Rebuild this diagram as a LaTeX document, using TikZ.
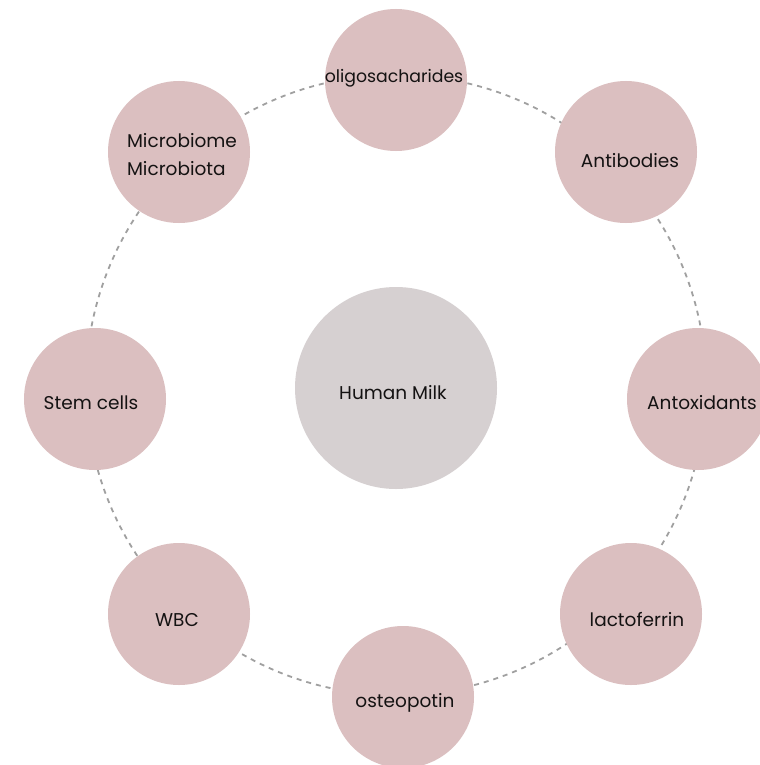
\documentclass[tikz,border=0pt]{standalone}
\usepackage{fontspec}
\setmainfont{Poppins}
\definecolor{pinkfill}{RGB}{219,191,192}
\definecolor{greyfill}{RGB}{214,208,209}
\definecolor{ringcol}{RGB}{160,160,160}
\definecolor{txtcol}{RGB}{20,18,18}
\begin{document}
\begin{tikzpicture}[x=1bp,y=-1bp,
  item/.style={circle,fill=pinkfill,inner sep=0pt,minimum size=142bp},
  hub/.style={circle,fill=greyfill,inner sep=0pt,minimum size=202bp},
  lbl/.style={anchor=base,text=txtcol,font=\fontsize{18.5bp}{28bp}\selectfont,inner sep=0pt},
  ring/.style={draw=ringcol,line width=1.8bp,dash pattern=on 5bp off 5bp}]
\useasboundingbox[fill=white] (0,0) rectangle (760,765);
\node[circle,inner sep=0pt,minimum size=620bp] (ringc) at (396,385) {};
\draw[ring] (ringc.center) circle[radius=310bp];
\node[hub] (milk) at (396,388) {};
\node[item] (oli) at (396,80) {};
\node[item] (anb) at (626,152) {};
\node[item] (anx) at (698,399) {};
\node[item] (lac) at (631,614) {};
\node[item] (ost) at (403,697) {};
\node[item] (wbc) at (179,614) {};
\node[item] (stc) at (95,399) {};
\node[item] (mic) at (179,152) {};
\node[lbl] (tmilk) at (393,399) {Human Milk};
\node[lbl,font=\fontsize{17.3bp}{28bp}\selectfont] (toli) at (394,82) {oligosacharides};
\node[lbl] (tanb) at (630,167) {Antibodies};
\node[lbl] (tanx) at (702,409) {Antoxidants};
\node[lbl] (tlac) at (637,626) {lactoferrin};
\node[lbl] (tost) at (405,707) {osteopotin};
\node[lbl] (twbc) at (177,626) {WBC};
\node[lbl] (tstc) at (91,409) {Stem cells};
\node[lbl,align=left] (tmic) at (182,175) {Microbiome\\Microbiota};
\end{tikzpicture}
\end{document}
